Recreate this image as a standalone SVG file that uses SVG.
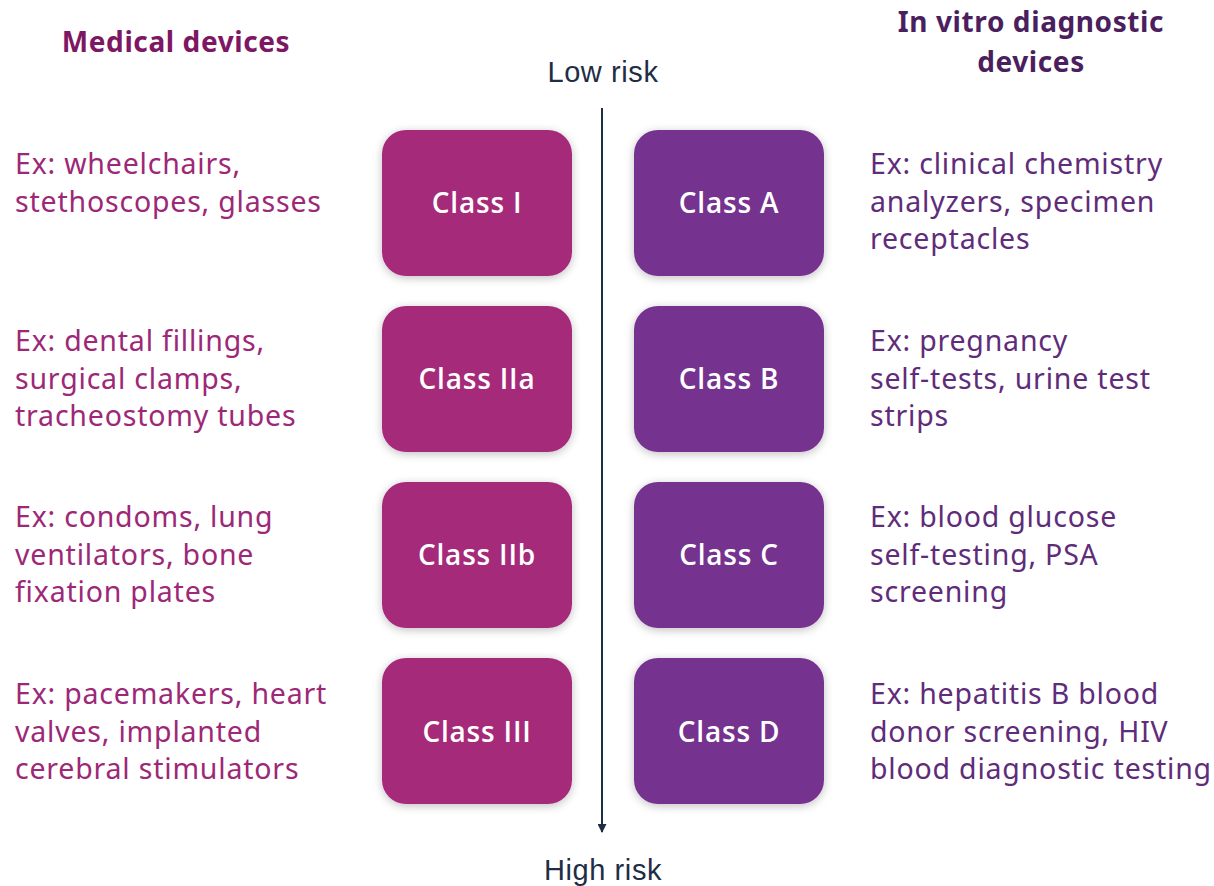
<svg xmlns="http://www.w3.org/2000/svg" width="1214" height="886" viewBox="0 0 1214 886">
  <defs>
    <filter id="shadow" x="-20%" y="-20%" width="140%" height="140%">
      <feGaussianBlur in="SourceAlpha" stdDeviation="5"/>
      <feOffset dx="0" dy="2" result="b"/>
      <feComponentTransfer><feFuncA type="linear" slope="0.25"/></feComponentTransfer>
      <feMerge><feMergeNode/><feMergeNode in="SourceGraphic"/></feMerge>
    </filter>
    <marker id="arrow" viewBox="0 0 10 10" refX="9" refY="5" markerWidth="10" markerHeight="9" markerUnits="userSpaceOnUse" orient="auto">
      <path d="M0,0 L10,5 L0,10 Z" fill="#1f2d45"/>
    </marker>
  </defs>
  <style>
    .md { fill: #a52a7a; }
    .ivd { fill: #74308f; }
    .box-label { font-family: "Open Sans", "Noto Sans", sans-serif; font-size: 28px; font-weight: 600; letter-spacing: 0.8px; fill: #ffffff; text-anchor: middle; }
    .ex-md { font-family: "Noto Sans", "Open Sans", sans-serif; font-size: 28.5px; letter-spacing: 0.8px; fill: #9c2877; }
    .ex-ivd { font-family: "Noto Sans", "Open Sans", sans-serif; font-size: 28.5px; letter-spacing: 0.8px; fill: #5f2c7a; }
    .head { font-family: "Noto Sans", "Open Sans", sans-serif; font-size: 28px; font-weight: 700; letter-spacing: 0.6px; text-anchor: middle; }
    .risk { font-family: "Liberation Sans", Arial, sans-serif; font-size: 29px; letter-spacing: 0.6px; fill: #1f2d45; text-anchor: middle; }
  </style>
  <rect width="1214" height="886" fill="#ffffff"/>

  <!-- column headings -->
  <text class="head" x="176" y="52" fill="#7d1763">Medical devices</text>
  <text class="head" x="1031" y="32" fill="#4b1f5e">In vitro diagnostic</text>
  <text class="head" x="1031" y="72" fill="#4b1f5e">devices</text>

  <!-- risk axis -->
  <text class="risk" x="603" y="82">Low risk</text>
  <text class="risk" x="603" y="880">High risk</text>
  <g id="connectors">
    <line x1="602" y1="108" x2="602" y2="832" stroke="#1f2d45" stroke-width="2" marker-end="url(#arrow)"/>
  </g>

  <!-- medical device classes -->
  <g id="class-i">
    <rect class="md" x="382" y="130" width="190" height="146" rx="24" filter="url(#shadow)"/>
    <text class="box-label" x="477" y="213">Class I</text>
  </g>
  <g id="class-iia">
    <rect class="md" x="382" y="306" width="190" height="146" rx="24" filter="url(#shadow)"/>
    <text class="box-label" x="477" y="389">Class IIa</text>
  </g>
  <g id="class-iib">
    <rect class="md" x="382" y="482" width="190" height="146" rx="24" filter="url(#shadow)"/>
    <text class="box-label" x="477" y="565">Class IIb</text>
  </g>
  <g id="class-iii">
    <rect class="md" x="382" y="658" width="190" height="146" rx="24" filter="url(#shadow)"/>
    <text class="box-label" x="477" y="742">Class III</text>
  </g>

  <!-- IVD classes -->
  <g id="class-a">
    <rect class="ivd" x="634" y="130" width="190" height="146" rx="24" filter="url(#shadow)"/>
    <text class="box-label" x="729" y="213">Class A</text>
  </g>
  <g id="class-b">
    <rect class="ivd" x="634" y="306" width="190" height="146" rx="24" filter="url(#shadow)"/>
    <text class="box-label" x="729" y="389">Class B</text>
  </g>
  <g id="class-c">
    <rect class="ivd" x="634" y="482" width="190" height="146" rx="24" filter="url(#shadow)"/>
    <text class="box-label" x="729" y="565">Class C</text>
  </g>
  <g id="class-d">
    <rect class="ivd" x="634" y="658" width="190" height="146" rx="24" filter="url(#shadow)"/>
    <text class="box-label" x="729" y="742">Class D</text>
  </g>

  <!-- medical device examples -->
  <g id="ex-class-i" class="ex-md">
    <text x="15" y="174">Ex: wheelchairs,</text>
    <text x="15" y="212">stethoscopes, glasses</text>
  </g>
  <g id="ex-class-iia" class="ex-md">
    <text x="15" y="351">Ex: dental fillings,</text>
    <text x="15" y="389">surgical clamps,</text>
    <text x="15" y="426">tracheostomy tubes</text>
  </g>
  <g id="ex-class-iib" class="ex-md">
    <text x="15" y="527">Ex: condoms, lung</text>
    <text x="15" y="565">ventilators, bone</text>
    <text x="15" y="602">fixation plates</text>
  </g>
  <g id="ex-class-iii" class="ex-md">
    <text x="15" y="704">Ex: pacemakers, heart</text>
    <text x="15" y="742">valves, implanted</text>
    <text x="15" y="779">cerebral stimulators</text>
  </g>

  <!-- IVD examples -->
  <g id="ex-class-a" class="ex-ivd">
    <text x="870" y="174">Ex: clinical chemistry</text>
    <text x="870" y="212">analyzers, specimen</text>
    <text x="870" y="249">receptacles</text>
  </g>
  <g id="ex-class-b" class="ex-ivd">
    <text x="870" y="351">Ex: pregnancy</text>
    <text x="870" y="389">self-tests, urine test</text>
    <text x="870" y="426">strips</text>
  </g>
  <g id="ex-class-c" class="ex-ivd">
    <text x="870" y="527">Ex: blood glucose</text>
    <text x="870" y="565">self-testing, PSA</text>
    <text x="870" y="602">screening</text>
  </g>
  <g id="ex-class-d" class="ex-ivd">
    <text x="870" y="704">Ex: hepatitis B blood</text>
    <text x="870" y="742">donor screening, HIV</text>
    <text x="870" y="779">blood diagnostic testing</text>
  </g>
</svg>
